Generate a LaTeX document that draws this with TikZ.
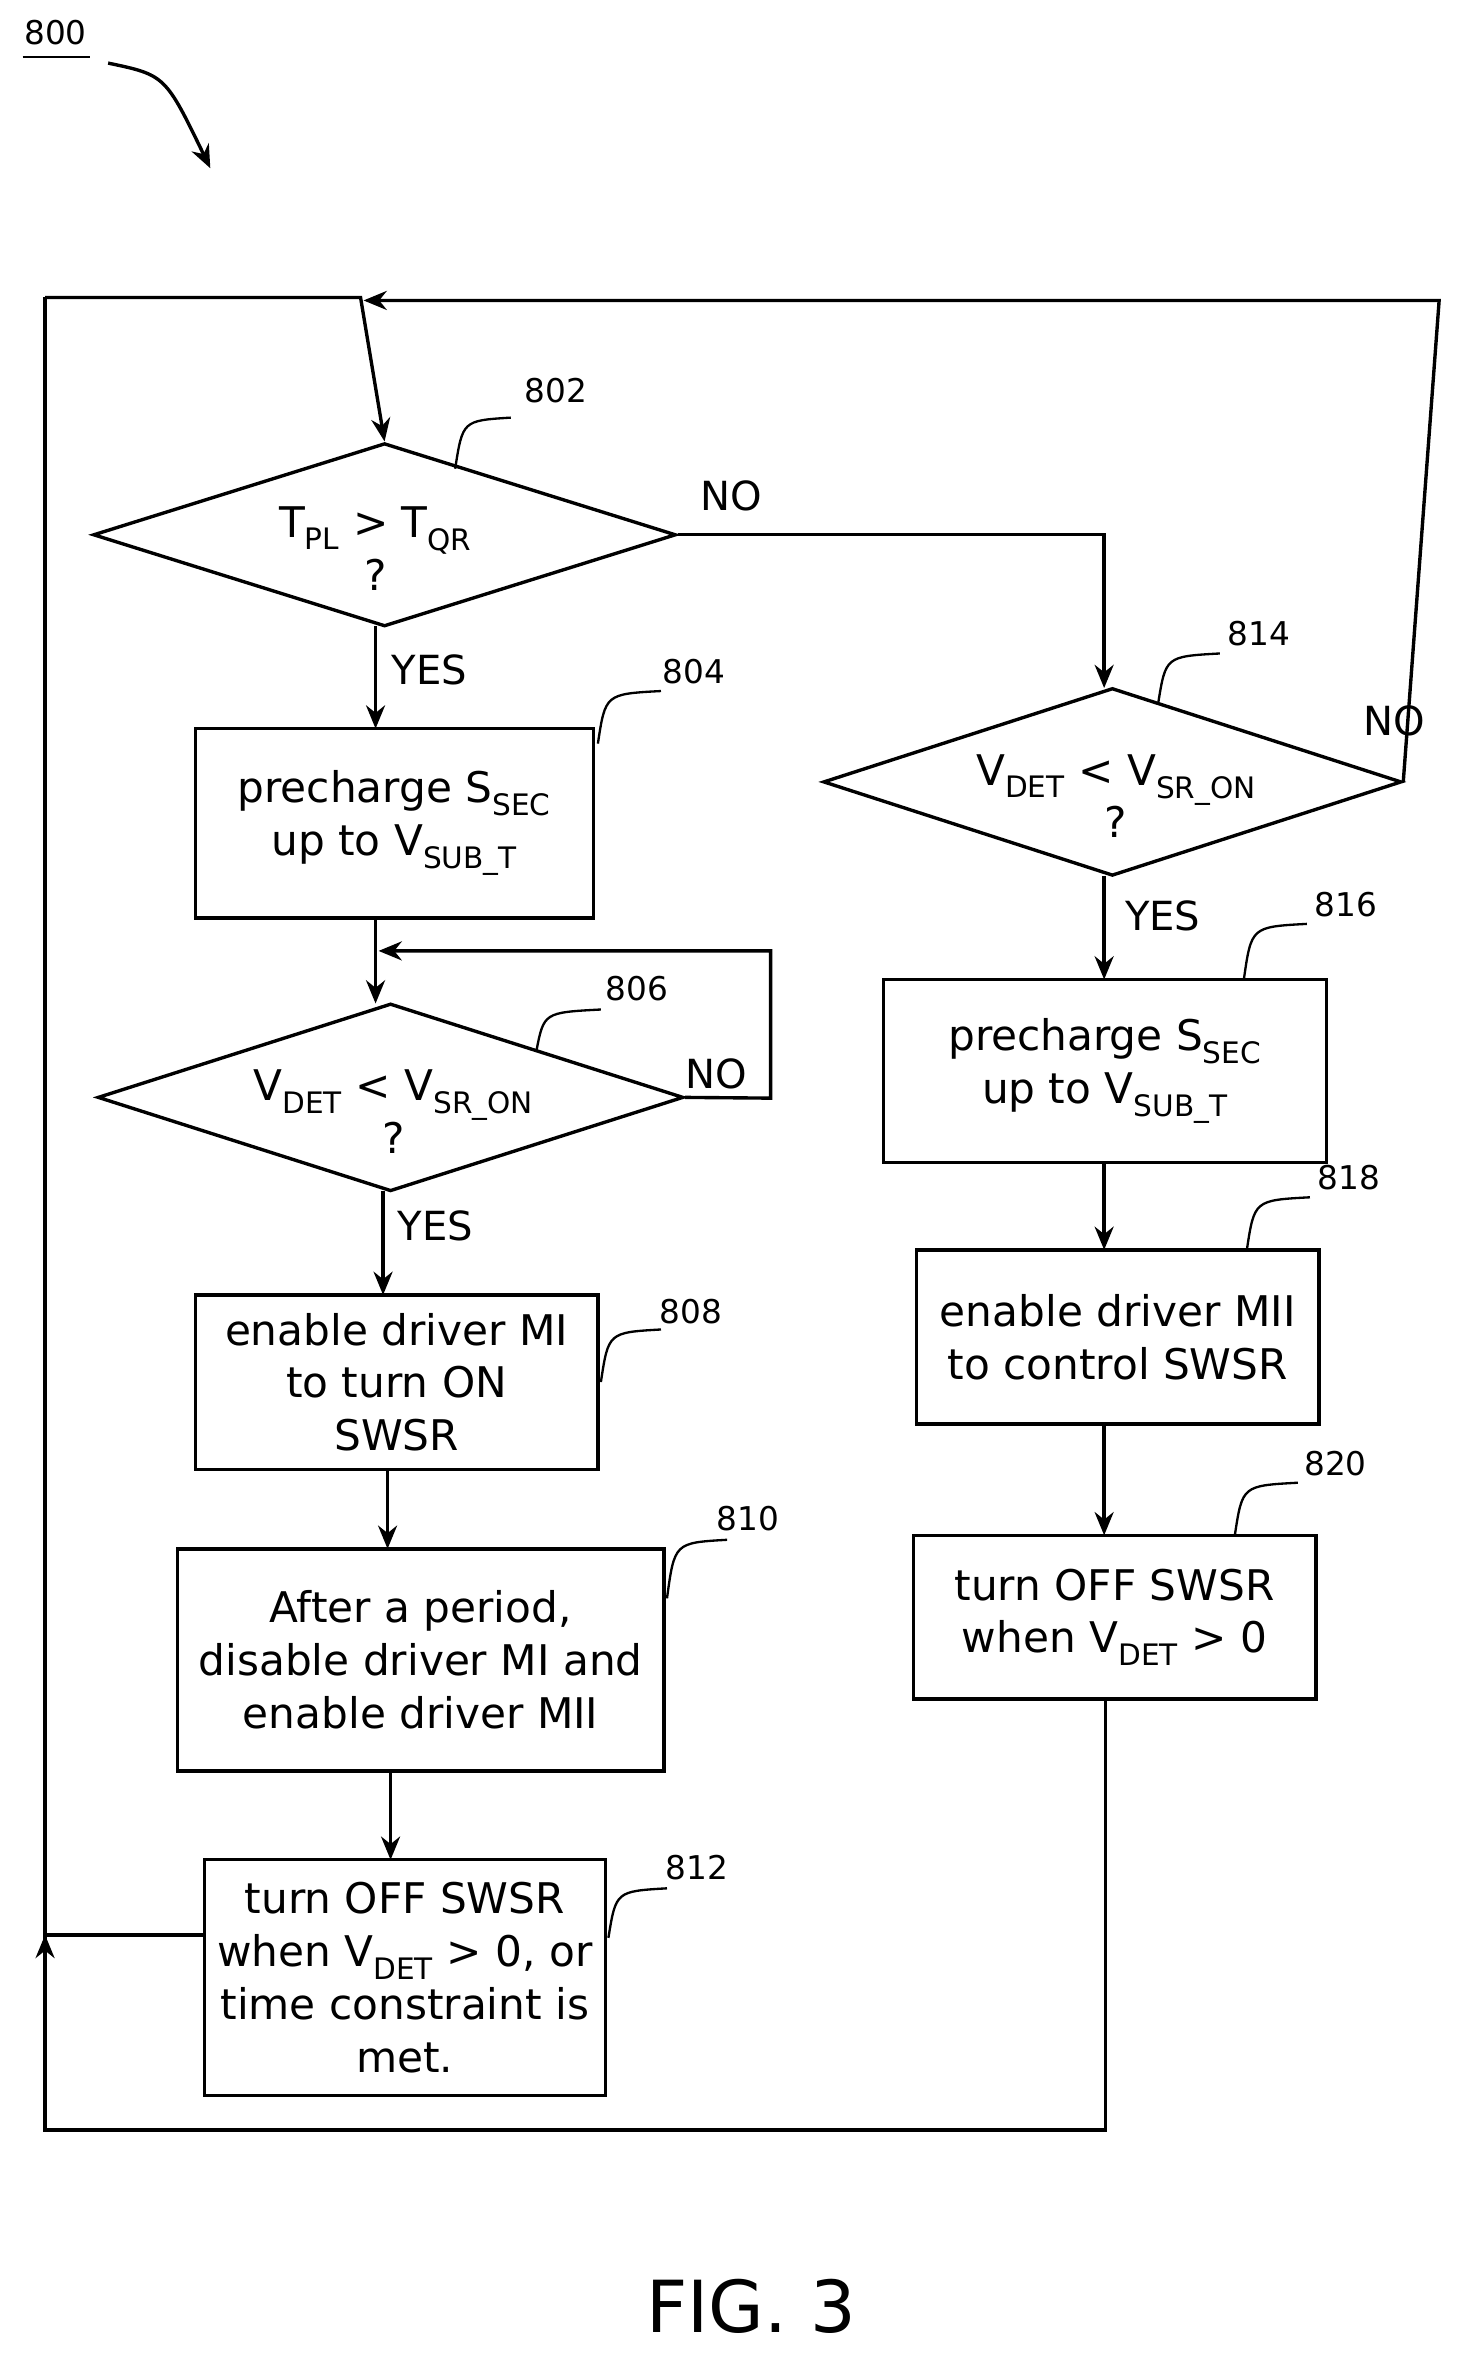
\documentclass[tikz,border=0pt]{standalone}
\usepackage{fontspec}
\setmainfont{DejaVu Sans}
\usetikzlibrary{shapes.geometric,arrows.meta}
\newcommand\mysb[1]{\textsubscript{#1}}
\begin{document}
\begin{tikzpicture}[x=0.05cm,y=-0.05cm,
  every path/.style={line width=3.2pt},
  arr/.style={-{Stealth[length=22pt,width=18pt]}},
  box/.style={draw,rectangle,inner sep=0,align=center,font=\fontsize{40}{50}\selectfont},
  dia/.style={draw,diamond,inner sep=0},
  txt/.style={align=center,font=\fontsize{40}{50}\selectfont},
  num/.style={font=\fontsize{31}{36}\selectfont},
  lbl/.style={font=\fontsize{38}{44}\selectfont}]
\useasboundingbox (0,0) rectangle (977,1573);
% title
\node[num] (n800) at (37,22) {800};
\draw[line width=2pt] (15,38) -- (60,38);
\coordinate (c800a) at (72,42); \coordinate (c800b) at (140,112);
\draw[arr] (c800a) .. controls (110,50) .. (c800b);
% diamonds
\node[dia,minimum width=19.4cm,minimum height=6.1cm] (d802) at (256,356) {};
\node[txt] (t802) at (250,365) {T\mysb{PL} > T\mysb{QR}\\?};
\node[dia,minimum width=19.25cm,minimum height=6.25cm] (d814) at (740.5,520.5) {};
\node[txt] (t814) at (743,530) {V\mysb{DET} < V\mysb{SR\_ON}\\?};
\node[dia,minimum width=19.5cm,minimum height=6.25cm] (d806) at (260,730.5) {};
\node[txt] (t806) at (262,740) {V\mysb{DET} < V\mysb{SR\_ON}\\?};
% boxes
\node[box,minimum width=13.25cm,minimum height=6.3cm] (b804) at (262.5,548) {precharge S\mysb{SEC}\\up to V\mysb{SUB\_T}};
\node[box,minimum width=13.4cm,minimum height=5.8cm] (b808) at (264,920) {enable driver MI\\to turn ON\\SWSR};
\node[box,minimum width=16.2cm,minimum height=7.4cm] (b810) at (280,1105) {After a period,\\disable driver MI and\\enable driver MII};
\node[box,minimum width=13.35cm,minimum height=7.85cm] (b812) at (269.5,1316.5) {turn OFF SWSR\\when V\mysb{DET} > 0, or\\time constraint is\\met.};
\node[box,minimum width=14.75cm,minimum height=6.1cm] (b816) at (735.5,713) {precharge S\mysb{SEC}\\up to V\mysb{SUB\_T}};
\node[box,minimum width=13.4cm,minimum height=5.8cm] (b818) at (744,890) {enable driver MII\\to control SWSR};
\node[box,minimum width=13.4cm,minimum height=5.45cm] (b820) at (742,1076.5) {turn OFF SWSR\\when V\mysb{DET} > 0};
% loop coordinates
\coordinate (tl) at (30,198); \coordinate (tm) at (240,198);
\coordinate (tr) at (958,200); \coordinate (tma) at (242,200);
\coordinate (bl) at (30,1418); \coordinate (br) at (736,1418);
\coordinate (la) at (30,1288);
\draw[arr] (tl) -- (tm) -- (d802.north);
\draw[arr] (d814.east) -- (tr) -- (tma);
\draw[arr] (d802.east) -- (735,356) -- (735,458);
\draw[arr] (250,417) -- (250,485);
\draw[arr] (250,611) -- (250,668);
\draw[arr] (d806.east) -- (513,731) -- (513,633) -- (252,633);
\draw[arr] (255,793) -- (255,862);
\draw[arr] (258,978) -- (258,1031);
\draw[arr] (260,1179) -- (260,1238);
\draw[arr] (735,583) -- (735,652);
\draw[arr] (735,774) -- (735,832);
\draw[arr] (735,948) -- (735,1022);
\draw (b820.south -| br) -- (br) -- (bl) -- (tl);
\draw[arr] (bl) -- (la);
\draw (b812.west |- la) -- (la);
% labels
\node[lbl] (l1) at (487,330) {NO};
\node[lbl] (l2) at (286,446) {YES};
\node[lbl] (l3) at (477,715) {NO};
\node[lbl] (l4) at (290,816) {YES};
\node[lbl] (l5) at (928,480) {NO};
\node[lbl] (l6) at (774,610) {YES};
% reference numbers
\foreach \n/\nx/\ny/\ax/\ay/\bx/\by in {802/370/260/303/312/340/278, 804/462/447/398/495/440/460, 806/424/658/357/700/400/672, 808/460/873/400/920/440/885, 810/498/1011/444/1064/484/1025, 812/464/1243/405/1290/444/1257, 814/838/422/771/468/812/435, 816/896/602/828/652/870/615, 818/898/784/830/832/872/797, 820/889/974/822/1022/864/987}{
  \node[num] (n\n) at (\nx,\ny) {\n};
  \draw[line width=2.2pt] (\ax,\ay) .. controls (\ax+5,\by+2) .. (\bx,\by);
}
\node[font=\fontsize{68}{80}\selectfont] (fig) at (500,1535) {FIG. 3};
\end{tikzpicture}
\end{document}
